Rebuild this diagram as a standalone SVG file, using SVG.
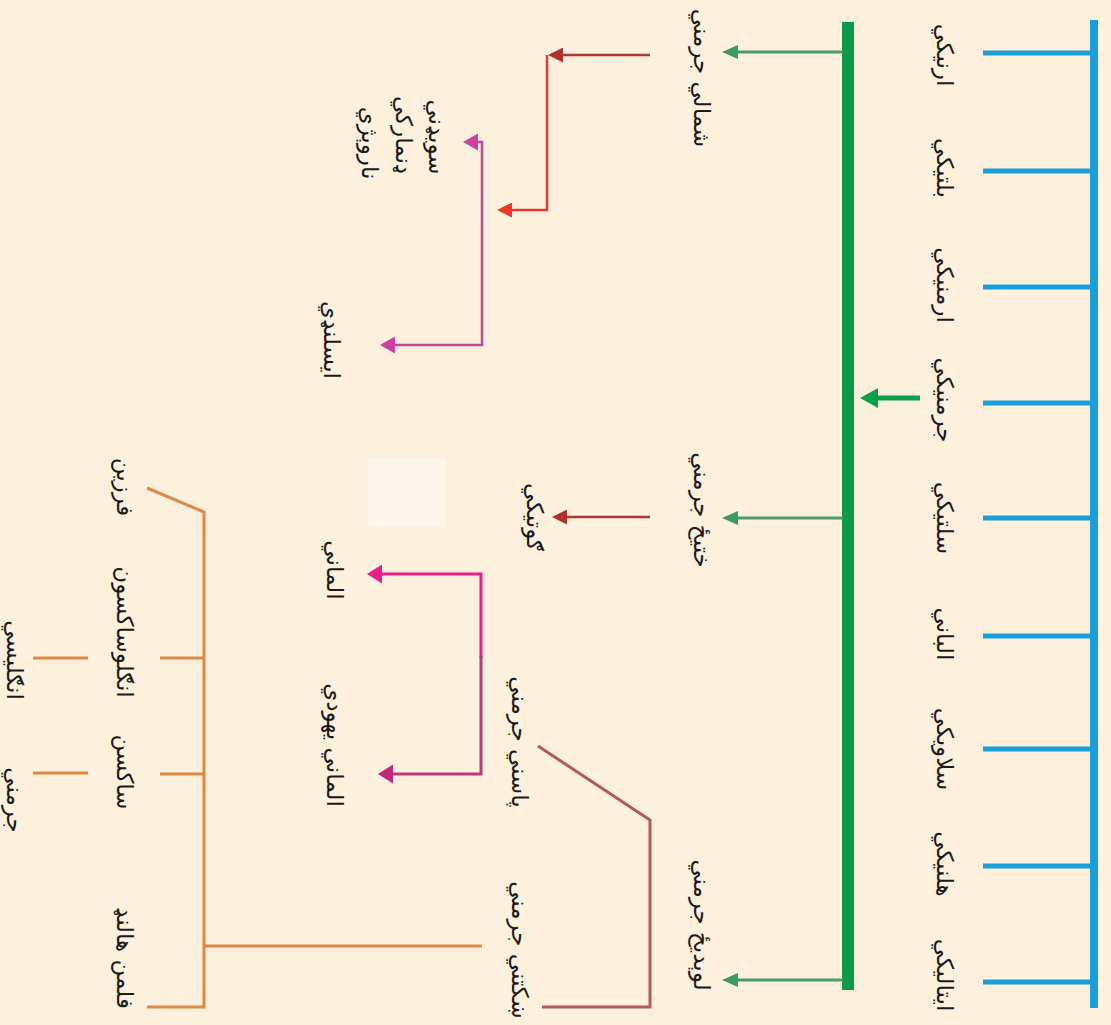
<svg xmlns="http://www.w3.org/2000/svg" width="1111" height="1025" viewBox="0 0 1111 1025">
<style>
text{font-family:"DejaVu Sans","Noto Sans",sans-serif;font-size:23px;fill:#1a1a1a;text-anchor:middle;dominant-baseline:central}
.blue{stroke:#1b9fd9;fill:none}
.gr{stroke:#4e9a6c;stroke-width:3;fill:none}
.or{stroke:#de8a44;stroke-width:3;fill:none}
</style>
<defs>
<marker id="mGreen" markerUnits="userSpaceOnUse" viewBox="0 0 16 14" refX="0" refY="7" markerWidth="16" markerHeight="14" orient="auto"><path d="M0,0 L16,7 L0,14Z" fill="#3a9a60"/></marker>
<marker id="mBig" markerUnits="userSpaceOnUse" viewBox="0 0 18 20" refX="0" refY="10" markerWidth="18" markerHeight="20" orient="auto"><path d="M0,0 L18,10 L0,20Z" fill="#0aa04a"/></marker>
<marker id="mDark" markerUnits="userSpaceOnUse" viewBox="0 0 15 15" refX="0" refY="7.5" markerWidth="15" markerHeight="15" orient="auto"><path d="M0,0 L15,7.5 L0,15Z" fill="#b03030"/></marker>
<marker id="mRed" markerUnits="userSpaceOnUse" viewBox="0 0 15 15" refX="0" refY="7.5" markerWidth="15" markerHeight="15" orient="auto"><path d="M0,0 L15,7.5 L0,15Z" fill="#e83a2a"/></marker>
<marker id="mPink" markerUnits="userSpaceOnUse" viewBox="0 0 15 17" refX="0" refY="8.5" markerWidth="15" markerHeight="17" orient="auto"><path d="M0,0 L15,8.5 L0,17Z" fill="#d040a0"/></marker>
<marker id="mMag" markerUnits="userSpaceOnUse" viewBox="0 0 15 19" refX="0" refY="9.5" markerWidth="15" markerHeight="19" orient="auto"><path d="M0,0 L15,9.5 L0,19Z" fill="#e81c8c"/></marker>
<marker id="mDMag" markerUnits="userSpaceOnUse" viewBox="0 0 15 19" refX="0" refY="9.5" markerWidth="15" markerHeight="19" orient="auto"><path d="M0,0 L15,9.5 L0,19Z" fill="#c02880"/></marker>
</defs>
<rect x="0" y="0" width="1111" height="1025" fill="#fdf0dc"/>
<rect x="368" y="458" width="77" height="69" fill="#fdf6ec"/>

<g id="connectors">
  <line class="blue" x1="1094" y1="20" x2="1094" y2="1008" stroke-width="8"/>
  <g class="blue" stroke-width="5">
    <line x1="983" y1="53" x2="1094" y2="53"/>
    <line x1="983" y1="171" x2="1094" y2="171"/>
    <line x1="983" y1="287" x2="1094" y2="287"/>
    <line x1="983" y1="403" x2="1094" y2="403"/>
    <line x1="983" y1="518" x2="1094" y2="518"/>
    <line x1="983" y1="636" x2="1094" y2="636"/>
    <line x1="983" y1="749" x2="1094" y2="749"/>
    <line x1="983" y1="866" x2="1094" y2="866"/>
    <line x1="983" y1="982" x2="1094" y2="982"/>
  </g>
  <line x1="848" y1="22" x2="848" y2="990" stroke="#0b9a4b" stroke-width="12"/>
  <line x1="920" y1="398" x2="878" y2="398" stroke="#0aa04a" stroke-width="5" marker-end="url(#mBig)"/>
  <line class="gr" x1="843" y1="52" x2="738" y2="52" marker-end="url(#mGreen)"/>
  <line class="gr" x1="843" y1="518" x2="738" y2="518" marker-end="url(#mGreen)"/>
  <line class="gr" x1="843" y1="980" x2="738" y2="980" marker-end="url(#mGreen)"/>

  <line x1="650" y1="55" x2="563" y2="55" stroke="#a83a3a" stroke-width="2.5" marker-end="url(#mDark)"/>
  <polyline points="547,55 547,210 512,210" fill="none" stroke="#e83a2a" stroke-width="2.5" marker-end="url(#mRed)"/>

  <polyline points="482,142 482,345 395,345" fill="none" stroke="#c04a9a" stroke-width="2.5" marker-end="url(#mPink)"/>
  <line x1="483" y1="142" x2="478" y2="142" stroke="#c04a9a" stroke-width="2.5" marker-end="url(#mPink)"/>

  <line x1="650" y1="517" x2="567" y2="517" stroke="#a83a3a" stroke-width="2.5" marker-end="url(#mDark)"/>

  <polyline points="481,658 481,574 382,574" fill="none" stroke="#e81c8c" stroke-width="3" marker-end="url(#mMag)"/>
  <polyline points="481,656 481,774 393,774" fill="none" stroke="#b83a7a" stroke-width="3" marker-end="url(#mDMag)"/>

  <polyline points="538,746 650,820 650,1007 542,1007" fill="none" stroke="#b05a5a" stroke-width="3"/>

  <g class="or">
    <polyline points="147,488 204,512 204,1007 147,1007"/>
    <line x1="204" y1="946" x2="482" y2="946"/>
    <line x1="160" y1="658" x2="204" y2="658"/>
    <line x1="160" y1="774" x2="204" y2="774"/>
    <line x1="33" y1="658" x2="88" y2="658"/>
    <line x1="33" y1="773" x2="88" y2="773"/>
  </g>
</g>

<g id="n-aryan"><text transform="translate(945,55) rotate(90)">ارنیکي</text></g>
<g id="n-baltic"><text transform="translate(945,168) rotate(90)">بلتیکي</text></g>
<g id="n-armenian"><text transform="translate(945,285) rotate(90)">ارمنیکي</text></g>
<g id="n-germanic"><text transform="translate(945,400) rotate(90)">جرمنیکي</text></g>
<g id="n-celtic"><text transform="translate(945,518) rotate(90)">سلتیکي</text></g>
<g id="n-albanian"><text transform="translate(945,634) rotate(90)">الباني</text></g>
<g id="n-slavic"><text transform="translate(945,749) rotate(90)">سلاویکي</text></g>
<g id="n-hellenic"><text transform="translate(945,864) rotate(90)">هلنیکي</text></g>
<g id="n-italic"><text transform="translate(945,975) rotate(90)">ایتالیکي</text></g>

<g id="n-north"><text transform="translate(702,78) rotate(90)">شمالي جرمني</text></g>
<g id="n-east"><text transform="translate(702,510) rotate(90)">ختیځ جرمني</text></g>
<g id="n-west"><text transform="translate(702,925) rotate(90)">لوېدیځ جرمني</text></g>

<g id="n-swedish"><text transform="translate(437,137) rotate(90)">سویډني</text></g>
<g id="n-danish"><text transform="translate(404,135) rotate(90)">ډنمارکي</text></g>
<g id="n-norwegian"><text transform="translate(370,143) rotate(90)">ناروېژي</text></g>
<g id="n-icelandic"><text transform="translate(332,340) rotate(90)">ایسلنډي</text></g>

<g id="n-gothic"><text transform="translate(535,517) rotate(90)">ګوتیکي</text></g>
<g id="n-german"><text transform="translate(335,570) rotate(90)">الماني</text></g>
<g id="n-yiddish"><text transform="translate(335,745) rotate(90)">الماني یهودي</text></g>

<g id="n-high"><text transform="translate(520,742) rotate(90)">پاسني جرمني</text></g>
<g id="n-low"><text transform="translate(520,950) rotate(90)">ښکتني جرمني</text></g>

<g id="n-frisian"><text transform="translate(125,487) rotate(90)">فرزین</text></g>
<g id="n-anglosaxon"><text transform="translate(125,632) rotate(90)">انګلوساکسون</text></g>
<g id="n-saxon"><text transform="translate(125,772) rotate(90)">ساکسن</text></g>
<g id="n-dutch"><text transform="translate(125,958) rotate(90)">فلمن هالنډ</text></g>
<g id="n-english"><text transform="translate(15,660) rotate(90)">انګلیسي</text></g>
<g id="n-germ"><text transform="translate(15,800) rotate(90)">جرمني</text></g>
</svg>
